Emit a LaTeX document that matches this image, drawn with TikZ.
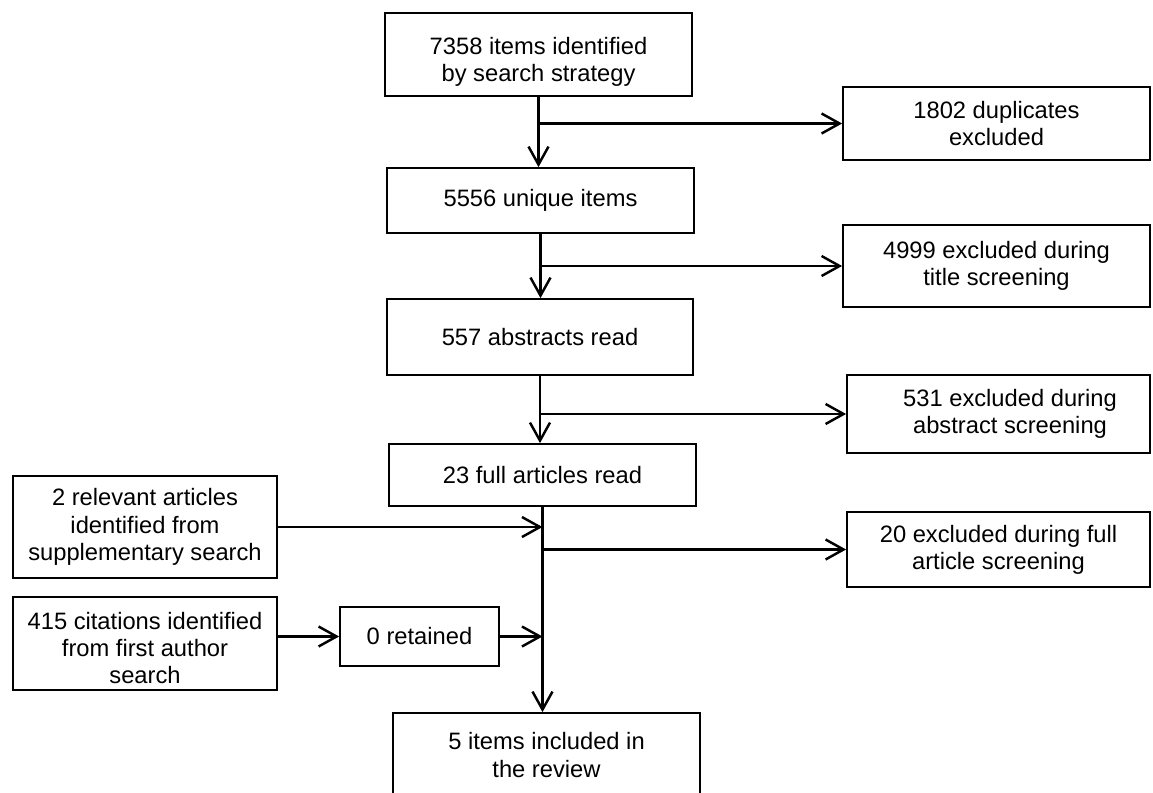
\documentclass[tikz,border=0pt]{standalone}
\usepackage{fontspec}
\setmainfont{Liberation Sans}
\usepackage{tikz}
\usetikzlibrary{arrows.meta, positioning}

\begin{document}
\begin{tikzpicture}[
  box/.style={rectangle, draw, line width=1pt, align=center,
              inner sep=0pt, font=\fontsize{13.5}{15.5}\selectfont},
  flow/.style={line width=1.4pt, -{Straight Barb[length=3.6mm, width=4mm]}}
]
\clip (0,0) rectangle (23.06,-15.84);

\node[box, minimum width=6.14cm, minimum height=1.66cm] (srch) at (10.77,-1.09)  {\rule{0pt}{0.63cm}7358 items identified\\ by search strategy};
\node[box, minimum width=6.14cm, minimum height=1.46cm] (dup)  at (19.93,-2.47)  {1802 duplicates\\ excluded};
\node[box, minimum width=6.14cm, minimum height=1.30cm] (uniq) at (10.81,-4.01)  {5556 unique items};
\node[box, minimum width=6.14cm, minimum height=1.64cm] (ttl)  at (19.93,-5.32)  {4999 excluded during\\ title screening};
\node[box, minimum width=6.12cm, minimum height=1.52cm] (abst) at (10.80,-6.74)  {557 abstracts read};
\node[box, minimum width=6.06cm, minimum height=1.56cm] (absx) at (19.97,-8.28)  {\hspace*{0.46cm}531 excluded during\\ \hspace*{0.46cm}abstract screening};
\node[box, minimum width=6.14cm, minimum height=1.24cm] (full) at (10.85,-9.50)  {23 full articles read};
\node[box, minimum width=6.06cm, minimum height=1.50cm] (fulx) at (19.97,-10.99) {20 excluded during full\\ article screening};

\node[box, minimum width=5.28cm, minimum height=2.04cm] (supp) at (2.90,-10.54)  {2 relevant articles\\ identified from\\ supplementary search};
\node[box, minimum width=5.28cm, minimum height=1.86cm] (cite) at (2.90,-12.87)  {\rule{0pt}{0.53cm}415 citations identified\\ from first author\\ search};
\node[box, minimum width=3.18cm, minimum height=1.18cm] (retn) at (8.39,-12.73)  {0 retained};

\node[box, minimum width=6.14cm, minimum height=1.68cm] (incl) at (10.93,-15.10) {5 items included in\\ the review};

% main line
\draw[flow] (srch.south) -- (srch.south |- uniq.north);
\draw[flow] (uniq.south) -- (uniq.south |- abst.north);
\draw[flow] (abst.south) -- (abst.south |- full.north);
\draw[flow] (full.south) -- (full.south |- incl.north);

% exclusions
\coordinate (j1) at (srch.south |- dup.west);
\coordinate (j2) at (uniq.south |- ttl.west);
\coordinate (j3) at (abst.south |- absx.west);
\coordinate (j4) at (full.south |- fulx.west);
\draw[flow] (j1) -- (dup);
\draw[flow] (j2) -- (ttl);
\draw[flow] (j3) -- (absx);
\draw[flow] (j4) -- (fulx);

% other sources
\draw[flow] (supp.east) -- (supp.east -| full.south);
\draw[flow] (cite.east |- retn.west) -- (retn.west);
\draw[flow] (retn.east) -- (retn.east -| full.south);
\end{tikzpicture}
\end{document}
